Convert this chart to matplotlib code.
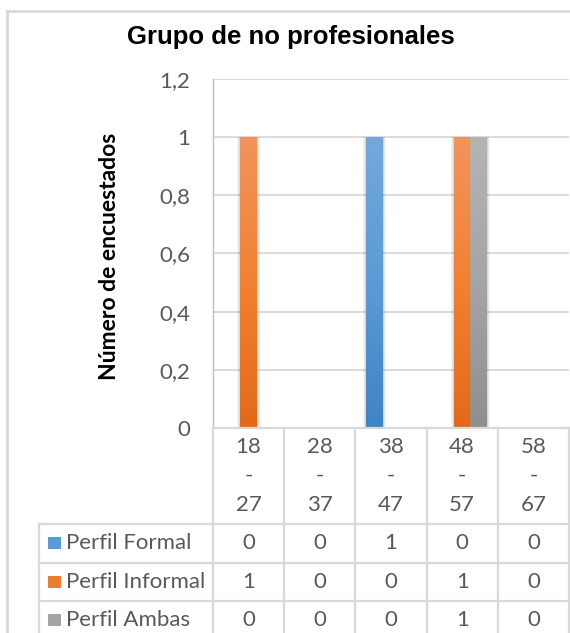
import numpy as np
import matplotlib
matplotlib.use("Agg")
import matplotlib.pyplot as plt
from matplotlib.lines import Line2D
from matplotlib.patches import Rectangle
from matplotlib.colors import LinearSegmentedColormap

# data
categories = ["18\n-\n27", "28\n-\n37", "38\n-\n47", "48\n-\n57", "58\n-\n67"]
series_names = ["Perfil Formal", "Perfil Informal", "Perfil Ambas"]
formal = [0, 0, 1, 0, 0]
informal = [1, 0, 0, 1, 0]
ambas = [0, 0, 0, 1, 0]
yticks = [0, 0.2, 0.4, 0.6, 0.8, 1.0, 1.2]
ytick_labels = ["0", "0,2", "0,4", "0,6", "0,8", "1", "1,2"]

# (top, middle, bottom) gradient stops per series
grads = [
    ("#73a8dc", "#5b9bd5", "#3f84c4"),
    ("#f3945c", "#f28131", "#e3691a"),
    ("#b4b4b4", "#a5a5a5", "#8f8f8f"),
]
marker_cols = ["#5b9bd5", "#ed7d31", "#a5a5a5"]

W, H = 570, 633
GRID = "#d9d9d9"
TXT = "#595959"
body_font = "Lato"
fs = 16


def fx(x):
    return x / W


def fy(y):
    return 1 - y / H


fig = plt.figure(figsize=(W / 100, H / 100), dpi=100)
fig.patch.set_facecolor("white")

# plot area in pixel terms
left, right, top, bottom = 213, 569, 79, 428
ax = fig.add_axes([fx(left), fy(bottom), (right - left) / W, (bottom - top) / H])
ax.set_xlim(-0.5, len(categories) - 0.5)
ax.set_ylim(0, 1.2)
for s in ["top", "right", "bottom"]:
    ax.spines[s].set_visible(False)
ax.spines["left"].set_color("#bfbfbf")
ax.spines["left"].set_linewidth(1.0)
ax.set_xticks([])
ax.set_yticks(yticks)
ax.set_yticklabels(ytick_labels, fontsize=fs, color=TXT, family=body_font)
ax.tick_params(axis="y", length=0, pad=16.5)
ax.yaxis.grid(True, color=GRID, linewidth=1.3)
ax.set_axisbelow(True)

x = np.arange(len(categories))
bw = 0.232
values = [formal, informal, ambas]
for k, (vals, g) in enumerate(zip(values, grads)):
    cmap = LinearSegmentedColormap.from_list(f"g{k}", [g[2], g[1], g[0]])
    bars = ax.bar(x + (k - 1) * bw, vals, bw, color="none", edgecolor="none")
    for b in bars:
        h = b.get_height()
        if h <= 0:
            continue
        x0 = b.get_x()
        x1 = x0 + b.get_width()
        # soft drop shadow
        for i, a in enumerate([0.04, 0.05, 0.07]):
            pad = 0.024 * (3 - i)
            ax.add_patch(Rectangle((x0 - pad * 0.6, 0), (x1 - x0) + pad * 1.2, h,
                                   facecolor="black", alpha=a, edgecolor="none", zorder=2))
        grad = np.linspace(0, 1, 256).reshape(-1, 1)
        ax.imshow(grad, cmap=cmap, origin="lower", aspect="auto",
                  extent=[x0, x1, 0, h], zorder=3)
ax.set_xlim(-0.5, len(categories) - 0.5)
ax.set_ylim(0, 1.2)

# data table under the plot
row_tops = [524, 562.5, 601, 639.5]
col_edges = [ax.transData.transform((i - 0.5, 0))[0] for i in range(len(categories) + 1)]
lw = 1.6


def hline(x0, x1, y):
    fig.add_artist(Line2D([fx(x0), fx(x1)], [fy(y), fy(y)], color=GRID, lw=lw))


def vline(xp, y0, y1):
    fig.add_artist(Line2D([fx(xp), fx(xp)], [fy(y0), fy(y1)], color=GRID, lw=lw))


hline(left, right, bottom)
for yy in row_tops:
    hline(39, right, yy)
for xe in col_edges:
    vline(xe, bottom, H + 10)
vline(39, row_tops[0], H + 10)

for i, lab in enumerate(categories):
    cx = (col_edges[i] + col_edges[i + 1]) / 2
    for j, part in enumerate(lab.split("\n")):
        fig.text(fx(cx), fy(447 + 29 * j), part, ha="center", va="center",
                 fontsize=fs, color=TXT, family=body_font)

for r, (name, vals) in enumerate(zip(series_names, values)):
    cy = (row_tops[r] + row_tops[r + 1]) / 2
    fig.patches.append(Rectangle((fx(48), fy(cy + 6)), 13 / W, 12 / H,
                                 transform=fig.transFigure, facecolor=marker_cols[r],
                                 edgecolor="none"))
    fig.text(fx(66), fy(cy), name, ha="left", va="center",
             fontsize=fs, color=TXT, family=body_font)
    for i, v in enumerate(vals):
        cx = (col_edges[i] + col_edges[i + 1]) / 2
        fig.text(fx(cx), fy(cy), str(v), ha="center", va="center",
                 fontsize=fs, color=TXT, family=body_font)

# outer chart frame
fig.add_artist(Line2D([fx(7), fx(7)], [fy(11), fy(H + 10)], color=GRID, lw=2))
fig.add_artist(Line2D([fx(7), fx(W + 10)], [fy(11), fy(11)], color=GRID, lw=2))

fig.text(fx(291), fy(37), "Grupo de no profesionales", ha="center", va="center",
         fontsize=18.5, fontweight="bold", family="Liberation Sans")
fig.text(fx(110), fy(256), "Número de encuestados", ha="center", va="center",
         rotation=90, fontsize=16.5, fontweight="bold", family=body_font)

fig.savefig("out.png", dpi=100)
